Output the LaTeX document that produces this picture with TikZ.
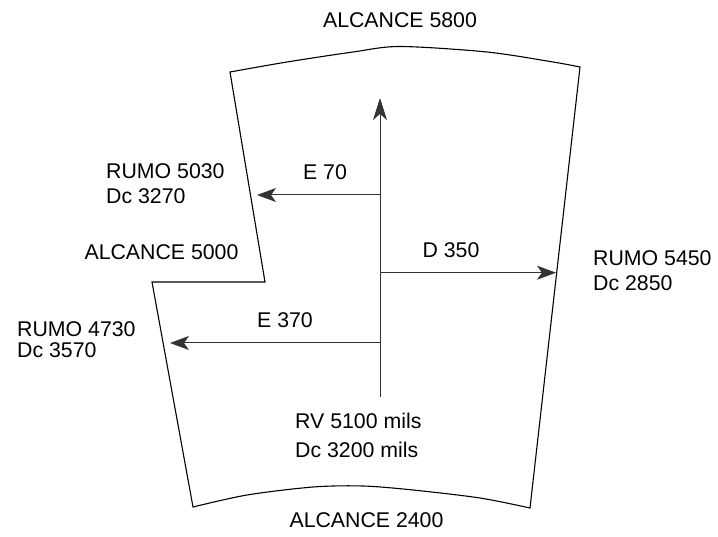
\documentclass[tikz,border=0pt]{standalone}
\usepackage{fontspec}
\setmainfont{Liberation Sans}
\usetikzlibrary{arrows.meta}
\tikzset{
  lbl/.style={inner sep=0pt, font=\fontsize{21.3}{25.3}\selectfont},
  lblblock/.style={lbl, anchor=north west, align=left},
  rim/.style={line width=1.1pt},
  vec/.style={line width=1pt, black!80, -{Stealth[length=19pt,width=14pt,inset=5pt]}}
}
\begin{document}
\begin{tikzpicture}[x=1pt,y=-1pt]
  \useasboundingbox (0,0) rectangle (718,537);
  % Sector outline
  \coordinate (notchl) at (152,282);
  \coordinate (notchr) at (265,282);
  \draw[rim] plot[smooth] coordinates {(230,72) (287,62) (353,52) (400,46.5) (487,52) (553,62) (580,67)}
    -- plot[smooth] coordinates {(530,508) (480,498) (413,490) (363,486) (313,487) (247,495) (193,507)}
    -- (notchl) -- (notchr) -- cycle;
  % Axis and offsets
  \coordinate (foot) at (380,397);
  \coordinate (head) at (380,98);
  \coordinate (e70from) at (380,195);
  \coordinate (e70to) at (257,195);
  \coordinate (d350from) at (380,272.7);
  \coordinate (d350to) at (556,272.7);
  \coordinate (e370from) at (380,343);
  \coordinate (e370to) at (170,343);
  \draw[vec, -{Stealth[length=22pt,width=14pt,inset=6pt]}] (foot) -- (head);
  \draw[vec] (e70from) -- (e70to);
  \draw[vec] (d350from) -- (d350to);
  \draw[vec] (e370from) -- (e370to);
  % Labels
  \node[lbl] (alc5800) at (400,20.3) {ALCANCE 5800};
  \node[lblblock] (rumo5030) at (106,163.3) {RUMO 5030\\Dc 3270};
  \node[lbl] (alc5000) at (161.5,252) {ALCANCE 5000};
  \node[lbl] (e70) at (325,172) {E 70};
  \node[lbl] (d350) at (451,250) {D 350};
  \node[lblblock] (rumo5450) at (593,250) {RUMO 5450\\Dc 2850};
  \node[lblblock, font=\fontsize{21.3}{21}\selectfont] (rumo4730) at (17,321.7) {RUMO 4730\\Dc 3570};
  \node[lbl] (e370) at (285,320) {E 370};
  \node[lblblock, font=\fontsize{21.3}{29}\selectfont] (rv) at (295,413) {RV 5100 mils\\Dc 3200 mils};
  \node[lbl] (alc2400) at (366.5,520.5) {ALCANCE 2400};
\end{tikzpicture}
\end{document}
